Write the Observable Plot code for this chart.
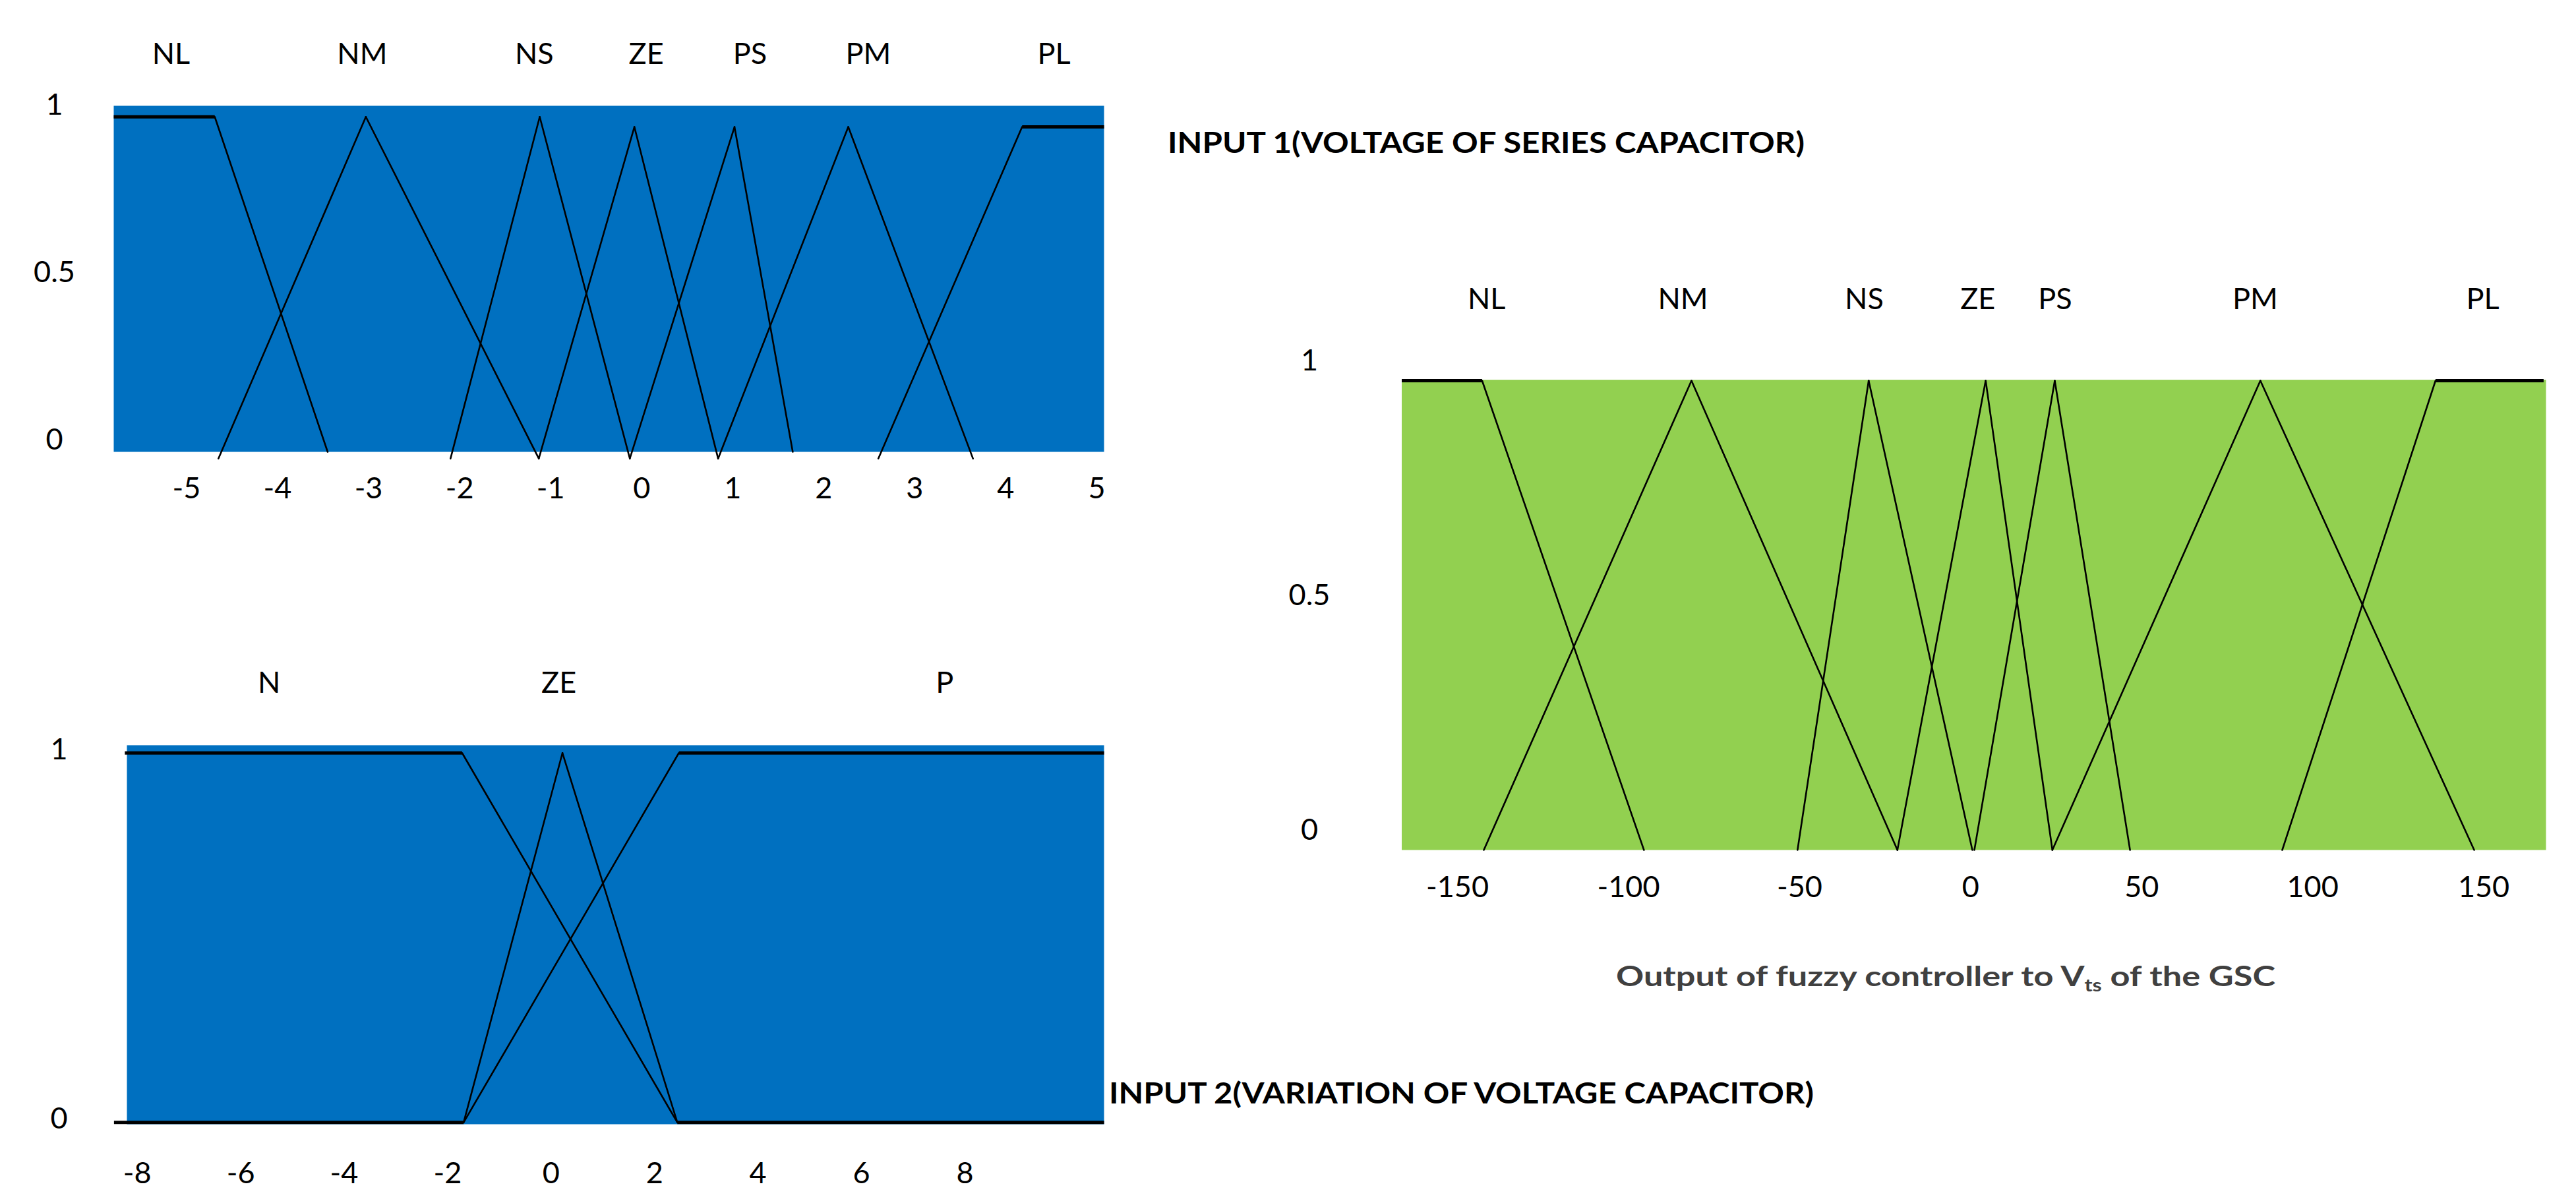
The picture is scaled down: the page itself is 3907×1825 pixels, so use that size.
<!DOCTYPE html>
<html><head><meta charset="utf-8">
<script src="https://cdn.jsdelivr.net/npm/d3@7"></script>
<script src="https://cdn.jsdelivr.net/npm/@observablehq/plot@0.6"></script>
<style>
html,body{margin:0;padding:0;background:#fff;}
#fig{position:relative;width:3907px;height:1825px;overflow:hidden;font-family:Lato,"Open Sans",sans-serif;}
.panel{position:absolute;}
.title{position:absolute;white-space:nowrap;font-weight:700;transform-origin:0 50%;line-height:1;}
.title sub{font-size:0.62em;vertical-align:-0.3em;line-height:0;}
</style></head><body><div id="fig"></div>
<script>
// ---------- INPUT 1 (voltage of series capacitor) ----------
const in1Names = ["NL","NM","NS","ZE","PS","PM","PL"];
const in1X  = [[-5.80,-4.69,-3.45],[-4.65,-3.03,-1.13],[-2.10,-1.12,-0.13],[-1.13,-0.08,0.84],[-0.13,1.02,1.66],[0.84,2.27,3.64],[2.60,4.18,5.08]];
const in1Mu = [[1,1,0],[-0.02,1,-0.02],[-0.02,1,-0.02],[-0.02,0.97,-0.02],[-0.02,0.97,0],[-0.02,0.97,-0.02],[-0.02,0.97,0.97]];
const in1LabelX = [-5.17,-3.07,-1.18,0.05,1.19,2.49,4.53];
const in1Ticks = [-5,-4,-3,-2,-1,0,1,2,3,4,5];
const in1Domain = [-5.80,5.08];

// ---------- INPUT 2 (variation of voltage capacitor) ----------
const in2Names = ["N","ZE","P"];
const in2X  = [[-8.24,-1.72,2.44,10.69],[-1.69,0.22,2.44],[-8.45,-1.69,2.47,10.69]];
const in2Mu = [[1,1,0,0],[0,1,0],[0,0,1,1]];
const in2LabelX = [-5.45,0.15,7.61];
const in2Ticks = [-8,-6,-4,-2,0,2,4,6,8];
const in2Domain = [-8.2,10.69];

// ---------- OUTPUT (fuzzy controller to Vts) ----------
const outNames = ["NL","NM","NS","ZE","PS","PM","PL"];
const outX  = [[-166.3,-142.8,-95.5],[-142.3,-81.6,-21.4],[-50.6,-29.8,0.5],[-21.4,4.4,23.9],[1.1,24.6,46.6],[23.9,84.7,147.2],[91.1,135.9,167.5]];
const outMu = [[1,1,0],[0,1,0],[0,1,0],[0,1,0],[0,1,0],[0,1,0],[0,1,1]];
const outLabelX = [-141.5,-84.1,-31.1,2.1,24.7,83.2,149.7];
const outTicks = [-150,-100,-50,0,50,100,150];
const outDomain = [-166.3,168.2];

const yTicks = [0,0.5,1];

const fig = document.getElementById("fig");

function panel(o){
  const segs = [];
  o.X.forEach((xs,i)=>{ for(let j=0;j<xs.length-1;j++) segs.push({x1:xs[j],y1:o.Mu[i][j],x2:xs[j+1],y2:o.Mu[i][j+1]}); });
  const svg = Plot.plot({
    width:o.width, height:o.height,
    marginLeft:o.m[0], marginRight:o.m[1], marginTop:o.m[2], marginBottom:o.m[3],
    x:{domain:o.xDomain, label:null},
    y:{domain:o.yDomain, label:null},
    style:{fontFamily:"Lato, 'Open Sans', sans-serif", fontSize:"45px", color:"#000", background:"transparent", overflow:"visible"},
    marks:[
      Plot.frame({fill:o.fill, stroke:"none"}),
      Plot.link(segs.filter(s=>s.y1!==s.y2), {x1:"x1",y1:"y1",x2:"x2",y2:"y2",stroke:"#000",strokeWidth:2.6,strokeLinecap:"round"}),
      Plot.link(segs.filter(s=>s.y1===s.y2), {x1:"x1",y1:"y1",x2:"x2",y2:"y2",stroke:"#000",strokeWidth:5}),
      Plot.axisX({ticks:o.ticks, tickSize:0, tickPadding:o.xPad, tickFormat:d=>String(d), fill:"#000"}),
      Plot.axisY({ticks:o.yTicks, tickSize:0, tickPadding:o.yPad, textAnchor:"middle", dy:o.yDy, tickFormat:d=>String(d), fill:"#000"}),
      Plot.text(o.names, {x:o.labelX, frameAnchor:"top", lineAnchor:"middle", dy:o.labelDy, fill:"#000"})
    ]
  });
  svg.classList.add("panel");
  svg.style.left = o.left+"px";
  svg.style.top = o.top+"px";
  fig.appendChild(svg);
}

panel({X:in1X, Mu:in1Mu, names:in1Names, labelX:in1LabelX, ticks:in1Ticks, xDomain:in1Domain, yDomain:[0,1.033],
  yTicks, fill:"#0070C0", width:1750, height:800, m:[172,76,160,115], left:0, top:0,
  xPad:39, yPad:90, yDy:-18, labelDy:-78});

panel({X:in2X, Mu:in2Mu, names:in2Names, labelX:in2LabelX, ticks:in2Ticks, xDomain:in2Domain, yDomain:[-0.005,1.021],
  yTicks:[0,1], fill:"#0070C0", width:1750, height:875, m:[192,76,180,120], left:0, top:950,
  xPad:58, yPad:103, yDy:-5, labelDy:-94});

panel({X:outX, Mu:outMu, names:outNames, labelX:outLabelX, ticks:outTicks, xDomain:outDomain, yDomain:[0,1.002],
  yTicks, fill:"#92D050", width:2057, height:1040, m:[275.5,46,195.6,131], left:1850, top:380,
  xPad:40, yPad:140, yDy:-30, labelDy:-122});

// titles
function title(html, left, cy, w, size, color){
  const d = document.createElement("div");
  d.className = "title";
  d.innerHTML = html;
  d.style.left = left+"px";
  d.style.top = cy+"px";
  d.style.fontSize = size+"px";
  d.style.color = color;
  fig.appendChild(d);
  const fit = ()=>{ d.style.transform = "translateY(-50%)"; const r = d.getBoundingClientRect(); d.style.transform = `translateY(-50%) scaleX(${w/r.width})`; };
  fit();
  if (document.fonts && document.fonts.ready) document.fonts.ready.then(fit);
}
title("INPUT 1(VOLTAGE OF SERIES CAPACITOR)", 1771, 215, 966, 44, "#000");
title("INPUT 2(VARIATION OF VOLTAGE CAPACITOR)", 1682, 1657, 1069, 44, "#000");
title("Output of fuzzy controller to V<sub>ts</sub> of the GSC", 2451, 1480, 1000, 42, "#404040");
</script></body></html>
